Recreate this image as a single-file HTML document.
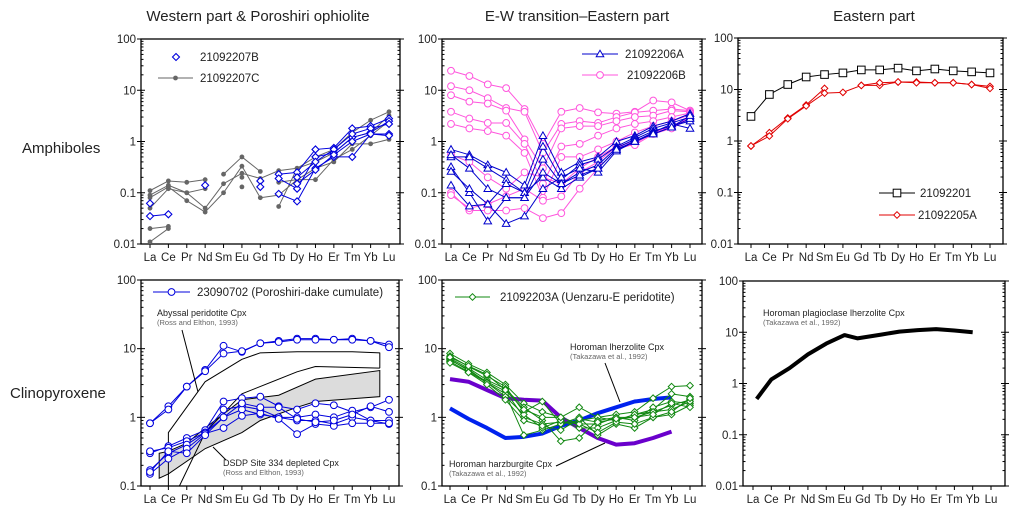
<!DOCTYPE html>
<html><head><meta charset="utf-8">
<style>
html,body{margin:0;padding:0;background:#fff;}
svg{display:block;font-family:"Liberation Sans",Arial,sans-serif;}
</style></head>
<body>
<svg id="c" width="1014" height="526" viewBox="0 0 1014 526" xmlns="http://www.w3.org/2000/svg">
<text x="258" y="21" font-size="15" text-anchor="middle" fill="#222">Western part &amp; Poroshiri ophiolite</text>
<text x="577" y="21" font-size="15" text-anchor="middle" fill="#222">E-W transition–Eastern part</text>
<text x="874" y="21" font-size="15" text-anchor="middle" fill="#222">Eastern part</text>
<text x="22" y="153" font-size="15" fill="#222">Amphiboles</text>
<text x="10" y="398" font-size="15" fill="#222">Clinopyroxene</text>
</svg>
<script>
const categories=["La","Ce","Pr","Nd","Sm","Eu","Gd","Tb","Dy","Ho","Er","Tm","Yb","Lu"];
const _=null;
// Panel A (western amphiboles)
const seriesB207=[
[0.035,0.038,_,_,_,_,_,_,_,_,_,_,_,_],
[0.062,_,_,_,_,_,_,_,_,_,_,_,_,_],
[_,_,_,0.14,_,_,0.17,_,_,_,_,_,_,_],
[_,_,_,_,_,_,0.13,_,_,_,_,_,_,_],
[_,_,_,_,_,_,_,0.23,0.25,0.7,0.75,1.8,2.0,2.8],
[_,_,_,_,_,_,_,0.095,0.068,0.3,0.5,0.5,1.4,1.4],
[_,_,_,_,_,_,_,0.19,0.12,0.5,0.6,1.2,1.5,2.5],
[_,_,_,_,_,_,_,_,0.2,0.4,0.7,1.4,1.8,2.2],
[_,_,_,_,_,_,_,_,0.15,0.28,0.55,1.0,1.4,1.3]];
const seriesC207=[
[0.11,0.17,0.16,0.18,_,_,_,_,_,_,_,_,_,_],
[0.09,0.14,0.1,0.05,0.15,0.24,0.19,0.27,0.3,0.5,0.7,1.5,2.6,3.8],
[0.08,0.13,0.07,0.042,0.1,0.33,0.08,0.09,0.18,0.3,0.4,0.9,0.9,1.1],
[0.05,0.12,0.1,0.12,_,_,_,_,_,_,_,_,_,_],
[0.02,0.022,_,_,_,_,_,_,_,_,_,_,_,_],
[0.011,0.02,_,_,_,_,_,_,_,_,_,_,_,_],
[_,_,_,_,0.23,0.5,0.26,_,_,_,_,_,_,_],
[_,_,_,_,_,0.2,_,_,_,_,_,_,_,_],
[_,_,_,_,_,0.13,_,_,_,_,_,_,_,_],
[_,_,_,_,_,_,_,0.054,0.3,0.4,0.6,1.2,1.5,3.2],
[_,_,_,_,_,_,_,0.16,0.18,0.18,0.45,0.7,1.3,2.5]];
// Panel B (transition amphiboles)
const seriesB206=[
[24,19,13,11,4.3,0.9,3.8,4.5,3.7,3.5,3.8,6.3,5.8,4],
[12,10,7,4.5,3.8,0.6,2.2,2.5,2.3,3,3.7,4,4.3,4],
[8,6,5.5,4,1.1,0.3,1.8,2,2,2.5,3,3.2,4,3.8],
[3.8,2.8,2.3,2.3,0.9,0.15,0.8,0.9,1.3,1.8,2.2,2.5,3,3.6],
[2.2,1.8,1.6,1.3,0.6,0.08,0.5,0.5,0.7,1.0,1.5,2,2.5,3.3],
[0.55,0.4,0.2,0.12,0.25,0.2,0.15,0.3,0.5,0.8,1.0,1.5,1.9,3],
[0.1,0.045,0.045,0.045,0.05,0.032,0.04,0.12,0.3,0.7,0.9,1.5,2,3],
[0.09,0.05,0.06,0.085,0.12,0.07,0.085,0.25,0.4,0.8,0.85,1.4,1.8,2.8]];
const seriesA206=[
[0.7,0.55,0.35,0.25,0.14,1.3,0.25,0.4,0.5,1,1.3,2,2.5,3.5],
[0.5,0.5,0.3,0.18,0.1,0.8,0.18,0.35,0.45,0.8,1.2,1.8,2.3,3],
[0.32,0.1,0.028,0.08,0.08,0.45,0.15,0.25,0.35,0.75,1.1,1.6,2,2.5],
[0.26,0.12,0.06,0.15,0.1,0.2,0.12,0.2,0.3,0.7,1,1.5,2.2,1.8],
[0.14,0.055,0.06,0.025,0.035,0.12,0.2,0.3,0.25,0.65,1,1.4,1.9,2.8],
[0.55,0.3,0.12,0.08,0.08,0.25,0.15,0.22,0.3,0.7,1,1.4,1.9,3.2]];
// Panel C (eastern amphiboles)
const series201=[3,8,12.5,17.5,19.5,21,24,24,26,23,25,23,22,21];
const series205A=[
[0.8,1.45,2.8,5,10.5,_,12,12,14,14,13.5,13.5,12.5,11.5],
[0.8,1.25,2.7,4.8,8.5,8.8,12,13.5,14,13.5,13.5,13.5,12.5,10.5]];
// Panel D (western cpx)
const series702=[
[0.82,1.45,2.8,4.9,11,9,12,13,14,14,13.5,14,13,11.5],
[0.82,1.3,2.8,4.7,8.5,9.2,12,12.5,13.5,13.5,13.5,13.5,13,10.5],
[0.3,0.38,0.5,0.65,1.7,1.9,2.0,1.45,1.3,1.6,1.5,1.2,1.4,1.8],
[0.32,0.36,0.45,0.6,1.3,1.45,1.3,1.0,1.0,1.1,1.0,1.25,0.9,0.9],
[0.17,0.3,0.4,0.6,1.0,1.3,1.1,1.0,0.9,0.9,0.8,1.0,0.9,0.8],
[0.15,0.25,0.35,0.58,0.7,1.05,1.15,0.95,0.57,0.8,0.75,0.82,0.82,0.82],
[0.16,0.32,0.3,0.55,1.0,1.6,1.4,1.4,0.95,0.85,0.9,1.1,1.45,1.2]];
const abyssalUpperPos=[1,1,3,5,6,8,9,10,11,12.5,12.5];
const abyssalUpperVal=[0.1,0.6,3.3,7,8.7,9,9,9,9,8.7,5.2];
const abyssalLowerPos=[12.5,9,8,5,3,1.6];
const abyssalLowerVal=[5.2,5.5,4.6,2.2,0.6,0.1];
const dsdpPos=[0.5,1,2,3,5,7,9,12.5,12.5,9,8,6,5,3,1,0.5];
const dsdpVal=[0.3,0.32,0.42,0.7,1.8,2.1,3.6,4.8,2.0,1.7,1.4,0.9,0.6,0.35,0.15,0.13];
// Panel E (transition cpx)
const harzburgite=[3.6,3.3,2.5,1.9,1.8,1.75,1.0,0.7,0.5,0.4,0.42,0.5,0.62,_];
const lherzolite=[1.35,0.95,0.7,0.5,0.52,0.58,0.75,0.9,1.15,1.4,1.7,1.85,1.95,_];
const series203A=[
[8.5,6,4.5,3,1.6,1.2,1.0,1.4,1.0,1.1,1.2,1.9,2.8,2.9],
[7.8,5.5,4,2.8,1.2,1.7,0.8,0.9,1.0,0.9,1.1,1.3,2.2,2.0],
[7.2,5.2,3.5,2.6,1.4,0.9,0.45,0.5,0.9,1.0,1.0,1.2,1.5,1.8],
[7,4.8,3.3,2.4,1.0,0.8,0.85,0.8,0.8,1.0,0.9,1.4,1.7,1.6],
[6.8,5,3.2,2.2,0.55,0.65,0.8,1.0,0.55,0.8,0.7,1.0,1.1,1.5],
[6.5,4.6,3.2,2.0,1.1,0.7,0.9,0.7,0.7,0.9,1.1,1.2,1.3,1.7],
[7.5,5.6,4.2,2.5,1.3,1.0,1.0,0.8,0.6,0.85,0.8,1.0,1.2,1.9],
[6.2,4.5,3.0,1.8,0.9,0.75,0.65,0.95,0.85,0.95,1.0,1.1,1.6,1.4]];
// Panel F (eastern cpx)
const plagLherzPos=[0.2,1,2,3,4,5,5.7,7,8,9,10,11,12];
const plagLherzVal=[0.5,1.2,2,3.7,6,8.8,7.6,9,10.3,11,11.5,10.8,10];

const svg=document.getElementById('c');
const NS='http://www.w3.org/2000/svg';
function mk(tag,attrs,parent){const e=document.createElementNS(NS,tag);for(const k in attrs)e.setAttribute(k,attrs[k]);(parent||svg).appendChild(e);return e;}

function panel(cfg){
  const g=mk('g',{});
  
  
  const xs=i=>cfg.cx0+(cfg.cx1-cfg.cx0)*i/13;
  const ys=v=>cfg.y0+(cfg.y1-cfg.y0)*(cfg.dmax-Math.log10(v))/(cfg.dmax-cfg.dmin);
  const fr=mk('rect',{x:cfg.x0,y:cfg.y0,width:cfg.x1-cfg.x0,height:cfg.y1-cfg.y0,fill:'none',stroke:'#000','stroke-width':1.3},g);
  
  
  for(let d=cfg.dmin;d<=cfg.dmax;d++){
    const y=ys(Math.pow(10,d));
    mk('line',{x1:cfg.x0-4,x2:cfg.x0+4,y1:y,y2:y,stroke:'#000'},g);
    mk('line',{x1:cfg.x1-4,x2:cfg.x1+4,y1:y,y2:y,stroke:'#000'},g);
    const lab=d>=0?String(Math.pow(10,d)):(d==-1?'0.1':'0.01');
    const t=mk('text',{x:cfg.x0-5,y:y+4,'font-size':11.5,'text-anchor':'end',fill:'#222'},g);
    t.textContent=lab;
    
    
    if(d<cfg.dmax){for(let m=2;m<10;m++){const ym=ys(m*Math.pow(10,d));
      mk('line',{x1:cfg.x0,x2:cfg.x0+2.5,y1:ym,y2:ym,stroke:'#000'},g);
      mk('line',{x1:cfg.x1-2.5,x2:cfg.x1,y1:ym,y2:ym,stroke:'#000'},g);}}
  }
  categories.forEach((c,i)=>{
    const x=xs(i);
    mk('line',{x1:x,x2:x,y1:cfg.y1,y2:cfg.y1+4,stroke:'#000'},g);
    const t=mk('text',{x:x,y:cfg.y1+17,'font-size':11.5,'text-anchor':'middle',fill:'#222'},g);
    t.textContent=c;
    
    
  });
  return {g,xs,ys};
}
function marker(g,type,x,y,color){
  let e;
  if(type==='diamond')e=mk('path',{d:`M${x},${y-3.5}L${x+3.5},${y}L${x},${y+3.5}L${x-3.5},${y}Z`,fill:'#fff',stroke:color,'stroke-width':1.1},g);
  else if(type==='dot')e=mk('circle',{cx:x,cy:y,r:2.4,fill:color},g);
  else if(type==='tri')e=mk('path',{d:`M${x},${y-3.8}L${x+3.8},${y+2.8}L${x-3.8},${y+2.8}Z`,fill:'#fff',stroke:color,'stroke-width':1},g);
  else if(type==='circle')e=mk('circle',{cx:x,cy:y,r:3.4,fill:'#fff',stroke:color,'stroke-width':1},g);
  else if(type==='square')e=mk('rect',{x:x-3.8,y:y-3.8,width:7.6,height:7.6,fill:'#fff',stroke:color,'stroke-width':1},g);
  else if(type==='sdiamond')e=mk('path',{d:`M${x},${y-3.3}L${x+3.3},${y}L${x},${y+3.3}L${x-3.3},${y}Z`,fill:'#fff',stroke:color,'stroke-width':1},g);
  
  
}
function series(P,vals,color,mtype,name,width,pos,dash){
  width=width||1;
  let seg=[];
  const segs=[];
  vals.forEach((v,i)=>{if(v==null){if(seg.length)segs.push(seg);seg=[];}else seg.push([P.xs(pos?pos[i]:i),P.ys(v)]);});
  if(seg.length)segs.push(seg);
  segs.forEach(s=>{if(s.length>1){const at={points:s.map(p=>p.join(',')).join(' '),fill:'none',stroke:color,'stroke-width':width,'stroke-linejoin':'round'};
    if(dash)at['stroke-dasharray']=dash;
    const l=mk('polyline',at,P.g);
    
    }});
  if(mtype)segs.forEach(s=>s.forEach(p=>marker(P.g,mtype,p[0],p[1],color)));
}
function text(g,x,y,s,size,color,name){const t=mk('text',{x:x,y:y,'font-size':size,fill:color||'#222'},g);t.textContent=s;
  
  return t;}
function legendLine(g,x1,x2,y,color,mtype,label,tx,name){
  if(x2>x1)mk('line',{x1:x1,x2:x2,y1:y,y2:y,stroke:color},g);
  marker(g,mtype,(x1+x2)/2,y,color);
  text(g,tx,y+4,label,11.5,'#222',name);
}

// Panel A
const A=panel({name:'panel-amphibole-western',x0:141,x1:400,y0:39,y1:244,cx0:150,cx1:389,dmax:2,dmin:-2});
seriesC207.forEach(s=>series(A,s,'#666','dot','series-21092207C'));
seriesB207.forEach(s=>series(A,s,'#0000dd','diamond','series-21092207B'));
legendLine(A.g,176,176,57,'#0000dd','diamond','21092207B',200,'legend-21092207B');
legendLine(A.g,158,193,78,'#666','dot','21092207C',200,'legend-21092207C');

// Panel B
const B=panel({name:'panel-amphibole-transition',x0:442,x1:702,y0:39,y1:244,cx0:451,cx1:690,dmax:2,dmin:-2});
seriesB206.forEach(s=>series(B,s,'#ff55dd','circle','series-21092206B'));
seriesA206.forEach(s=>series(B,s,'#0000cc','tri','series-21092206A'));
legendLine(B.g,582,618,54,'#0000cc','tri','21092206A',625,'legend-21092206A');
legendLine(B.g,582,618,75,'#ff55dd','circle','21092206B',627,'legend-21092206B');

// Panel C
const C=panel({name:'panel-amphibole-eastern',x0:738,x1:1003,y0:38,y1:244,cx0:751,cx1:990,dmax:2,dmin:-2});
series(C,series201,'#000','square','series-21092201');
series205A.forEach(s=>series(C,s,'#e00000','sdiamond','series-21092205A'));
legendLine(C.g,879,915,193,'#000','square','21092201',920,'legend-21092201');
legendLine(C.g,879,915,215,'#e00000','sdiamond','21092205A',918,'legend-21092205A');

// Panel D
const D=panel({name:'panel-cpx-western',x0:141,x1:399,y0:280,y1:486,cx0:150,cx1:389,dmax:2,dmin:-1});
const dsdpPts=dsdpPos.map((p,i)=>D.xs(p)+','+D.ys(dsdpVal[i])).join(' ');
const band=mk('polygon',{points:dsdpPts,fill:'#dcdcdc',stroke:'#000','stroke-width':1},D.g);


series(D,abyssalUpperVal,'#000',null,'abyssal-envelope-upper',1,abyssalUpperPos);
series(D,abyssalLowerVal,'#000',null,'abyssal-envelope-lower',1,abyssalLowerPos);
series702.forEach(s=>series(D,s,'#0000dd','circle','series-23090702'));
legendLine(D.g,153,190,292,'#0000dd','circle','23090702 (Poroshiri-dake cumulate)',197,'legend-23090702');
text(D.g,157,316,'Abyssal peridotite Cpx',9,'#222','abyssal-label');
text(D.g,157,325,'(Ross and Elthon, 1993)',7.5,'#666','abyssal-citation');
mk('line',{x1:182,y1:330,x2:198,y2:392,stroke:'#000'},D.g);
text(D.g,223,466,'DSDP Site 334 depleted Cpx',9,'#222','dsdp-label');
text(D.g,223,475,'(Ross and Elthon, 1993)',7.5,'#666','dsdp-citation');
mk('line',{x1:213,y1:447,x2:226,y2:460,stroke:'#000'},D.g);

// Panel E
const E=panel({name:'panel-cpx-transition',x0:442,x1:702,y0:280,y1:486,cx0:450,cx1:690,dmax:2,dmin:-1});
series(E,harzburgite,'#6a00cc',null,'horoman-harzburgite-line',4);
series(E,lherzolite,'#0022ee',null,'horoman-lherzolite-line',4);
series203A.forEach(s=>series(E,s,'#118811','sdiamond','series-21092203A'));
legendLine(E.g,455,490,297,'#118811','sdiamond','21092203A (Uenzaru-E peridotite)',500,'legend-21092203A');
text(E.g,570,350,'Horoman lherzolite Cpx',9,'#222','lherzolite-label');
text(E.g,570,359,'(Takazawa et al., 1992)',7.5,'#666','lherzolite-citation');
mk('line',{x1:605,y1:363,x2:620,y2:402,stroke:'#000'},E.g);
text(E.g,449,467,'Horoman harzburgite Cpx',9,'#222','harzburgite-label');
text(E.g,449,476,'(Takazawa et al., 1992)',7.5,'#666','harzburgite-citation');
mk('line',{x1:556,y1:466,x2:605,y2:443,stroke:'#000'},E.g);

// Panel F
const F=panel({name:'panel-cpx-eastern',x0:743,x1:1005,y0:281,y1:486,cx0:753,cx1:991,dmax:2,dmin:-2});
series(F,plagLherzVal,'#000',null,'horoman-plag-lherzolite-line',4,plagLherzPos);
text(F.g,763,316,'Horoman plagioclase lherzolite Cpx',9,'#222','plag-lherzolite-label');
text(F.g,763,325,'(Takazawa et al., 1992)',7.5,'#666','plag-lherzolite-citation');
</script>
</body></html>
